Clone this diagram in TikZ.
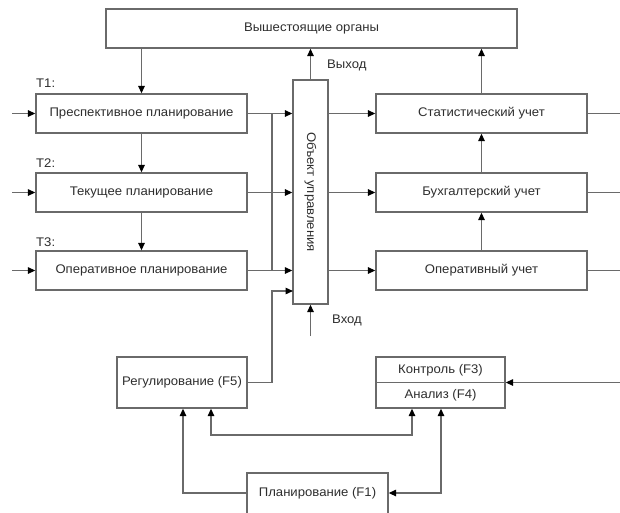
\documentclass[tikz,border=0pt]{standalone}
\usepackage{fontspec}
\setmainfont[FakeStretch=1.05]{Liberation Sans}
\usetikzlibrary{arrows.meta}
\definecolor{linegray}{HTML}{6A6A6A}
\definecolor{txtgray}{HTML}{2E2E2E}
\tikzset{
  box/.style={draw=linegray, line width=1.3pt, fill=white, text=txtgray,
    inner sep=0pt, font=\fontsize{12.5}{14}\selectfont},
  wire/.style={draw=linegray, line width=1.3pt},
  tip/.tip={Triangle[length=7.5pt,width=6.5pt,color=black]},
  arr/.style={wire, -tip},
  darr/.style={wire, tip-tip},
  lbl/.style={text=txtgray, inner sep=0pt, font=\fontsize{12.5}{14}\selectfont},
}
\begin{document}
\begin{tikzpicture}[x=1pt,y=-1pt]
\clip (0,0) rectangle (620,512);
\fill[white] (0,0) rectangle (620,512);

% upper management and the three planning levels
\node[box, minimum width=411pt, minimum height=39pt] (top) at (311.5,28.5) {Вышестоящие органы};
\node[box, minimum width=211pt, minimum height=39pt] (t1) at (141.5,113.5) {Преспективное планирование};
\node[box, minimum width=211pt, minimum height=39pt] (t2) at (141.5,192.5) {Текущее планирование};
\node[box, minimum width=211pt, minimum height=39pt] (t3) at (141.5,270.5) {Оперативное планирование};
\node[lbl, anchor=west] (l1) at (36,83) {Т1:};
\node[lbl, anchor=west] (l2) at (36,163) {Т2:};
\node[lbl, anchor=west] (l3) at (36,242) {Т3:};

% managed object
\node[box, minimum width=35pt, minimum height=224pt] (obj) at (310.5,192) {};
\node[lbl, rotate=-90] (objt) at (obj) {Объект управления};

% accounting boxes
\node[box, minimum width=211pt, minimum height=39pt] (st) at (481.5,113.5) {Статистический учет};
\node[box, minimum width=211pt, minimum height=39pt] (bu) at (481.5,192.5) {Бухгалтерский учет};
\node[box, minimum width=211pt, minimum height=39pt] (op) at (481.5,270.5) {Оперативный учет};

% functions
\node[box, minimum width=130pt, minimum height=51pt] (reg) at (182,382.5) {Регулирование (F5)};
\node[box, minimum width=129pt, minimum height=51pt] (ka) at (440.5,382.5) {};
\draw[wire] (ka.west) -- (ka.east);
\node[lbl] (kt) at (440.5,370) {Контроль (F3)};
\node[lbl] (at) at (440.5,395.5) {Анализ (F4)};
% the planning box runs past the lower edge
\node[box, minimum width=141pt, minimum height=46pt] (plan) at (317.5,496) {};
\node[lbl] (pt) at (317.5,493) {Планирование (F1)};

% free ends
\coordinate (in1) at (12,113.5);
\coordinate (in2) at (12,192.5);
\coordinate (in3) at (12,270.5);
\coordinate (o1) at (620,113.5);
\coordinate (o2) at (620,192.5);
\coordinate (o3) at (620,270.5);
\coordinate (fb) at (620,382.5);
\coordinate (busx) at (272,0);
\coordinate (objin) at (293,291);
\coordinate (vin) at (310.5,336);
\coordinate (m1) at (211,435);
\coordinate (m2) at (412,435);
\coordinate (m3) at (441,493);
\coordinate (m4) at (183,493);

% planning chain
\draw[arr] (t1 |- top.south) -- (t1.north);
\draw[arr] (t1.south) -- (t2.north);
\draw[arr] (t2.south) -- (t3.north);
\draw[arr] (in1) -- (t1.west);
\draw[arr] (in2) -- (t2.west);
\draw[arr] (in3) -- (t3.west);

% into the managed object
\draw[arr] (t1.east) -- (t1.east -| obj.west);
\draw[arr] (t2.east) -- (t2.east -| obj.west);
\draw[arr] (t3.east) -- (t3.east -| obj.west);
\draw[wire] (t1.east -| busx) -- (t3.east -| busx);
\draw[arr] (reg.east) -- (reg.east -| busx) -- (busx |- objin) -- (objin);
\draw[arr] (vin) -- (obj.south);
\draw[arr] (obj.north) -- (obj.north |- top.south);
\node[lbl, anchor=west] (vyh) at (327,65) {Выход};
\node[lbl, anchor=west] (vh) at (332,320) {Вход};

% out of the managed object
\draw[arr] (st.west -| obj.east) -- (st.west);
\draw[arr] (bu.west -| obj.east) -- (bu.west);
\draw[arr] (op.west -| obj.east) -- (op.west);
\draw[arr] (op.north) -- (bu.south);
\draw[arr] (bu.north) -- (st.south);
\draw[arr] (st.north) -- (st.north |- top.south);
\draw[wire] (st.east) -- (o1);
\draw[wire] (bu.east) -- (o2);
\draw[wire] (op.east) -- (o3);

% function loop
\draw[arr] (fb) -- (ka.east);
\draw[arr] (m4 -| plan.west) -- (m4) -- (reg.south -| m4);
\draw[darr] (reg.south -| m1) -- (m1) -- (m2) -- (ka.south -| m2);
\draw[darr] (ka.south -| m3) -- (m3) -- (m3 -| plan.east);
\end{tikzpicture}
\end{document}
